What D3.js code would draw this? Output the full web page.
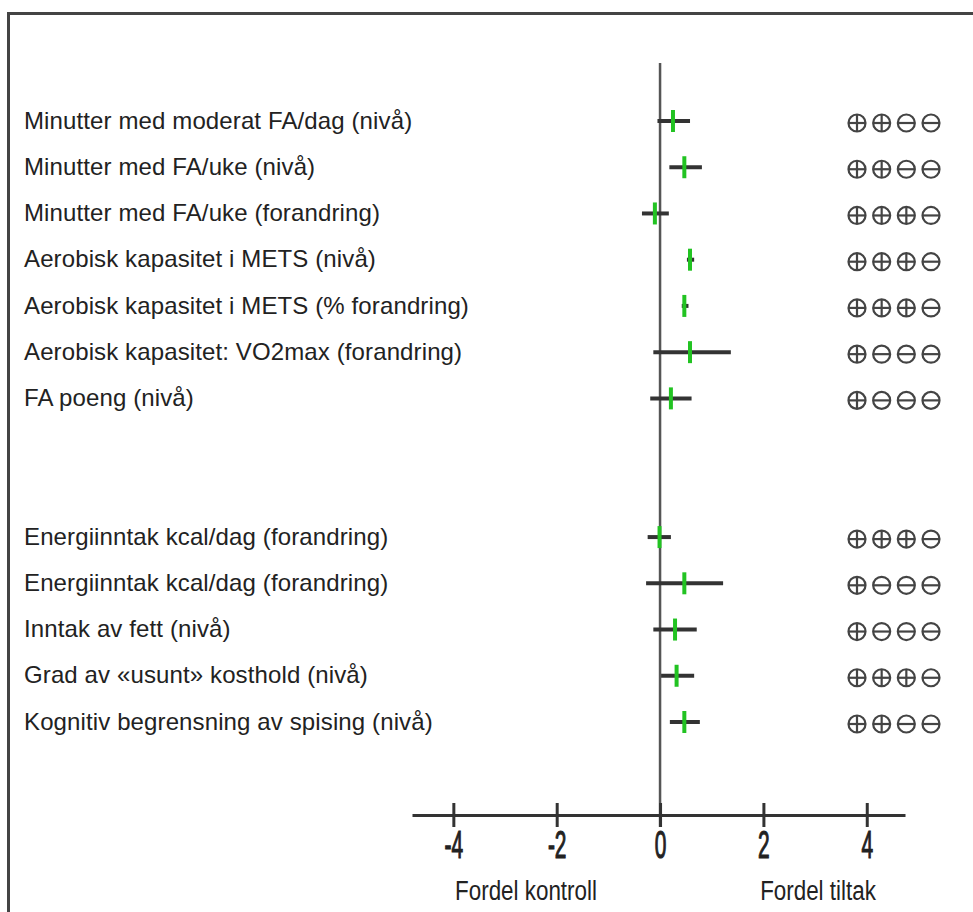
<!DOCTYPE html>
<html>
<head>
<meta charset="utf-8">
<script src="https://cdn.jsdelivr.net/npm/d3@7/dist/d3.min.js"></script>
<style>
  html, body { margin: 0; padding: 0; background: #fff; }
  svg { display: block; }
</style>
</head>
<body>
<svg id="chart" width="973" height="912"></svg>
<script>
// ---- data ----
const outcomesPA = [
  "Minutter med moderat FA/dag (nivå)",
  "Minutter med FA/uke (nivå)",
  "Minutter med FA/uke (forandring)",
  "Aerobisk kapasitet i METS (nivå)",
  "Aerobisk kapasitet i METS (% forandring)",
  "Aerobisk kapasitet: VO2max (forandring)",
  "FA poeng (nivå)"
];
const outcomesDiet = [
  "Energiinntak kcal/dag (forandring)",
  "Energiinntak kcal/dag (forandring)",
  "Inntak av fett (nivå)",
  "Grad av «usunt» kosthold (nivå)",
  "Kognitiv begrensning av spising (nivå)"
];
const estimatePA = [0.25, 0.47, -0.10, 0.58, 0.47, 0.58, 0.21];
const lowerPA    = [-0.05, 0.18, -0.35, 0.52, 0.42, -0.13, -0.19];
const upperPA    = [0.58, 0.81, 0.17, 0.66, 0.55, 1.37, 0.61];
const estimateDiet = [-0.01, 0.47, 0.29, 0.32, 0.47];
const lowerDiet    = [-0.24, -0.27, -0.13, 0.02, 0.19];
const upperDiet    = [0.21, 1.22, 0.71, 0.66, 0.77];
// GRADE certainty: number of ⊕ out of 4
const gradePA   = [2, 2, 3, 3, 3, 1, 1];
const gradeDiet = [3, 1, 1, 3, 2];
const tickValues = [-4, -2, 0, 2, 4];
const leftLabel = "Fordel kontroll";
const rightLabel = "Fordel tiltak";

// ---- build rows ----
const gapSlots = 2;
const rows = [];
outcomesPA.forEach((l, i) => rows.push({label: l, est: estimatePA[i], lo: lowerPA[i], hi: upperPA[i], grade: gradePA[i], slot: i}));
outcomesDiet.forEach((l, i) => rows.push({label: l, est: estimateDiet[i], lo: lowerDiet[i], hi: upperDiet[i], grade: gradeDiet[i], slot: outcomesPA.length + gapSlots + i}));
const nSlots = outcomesPA.length + gapSlots + outcomesDiet.length;

const svg = d3.select("#chart");

// frame (top and left edges)
svg.append("line").attr("x1", 8).attr("x2", 973).attr("y1", 13.5).attr("y2", 13.5)
  .attr("stroke", "#444").attr("stroke-width", 3);
svg.append("line").attr("x1", 8.5).attr("x2", 8.5).attr("y1", 12).attr("y2", 912)
  .attr("stroke", "#444").attr("stroke-width", 3);

const x = d3.scaleLinear().domain([-4.8, 4.74]).range([412, 905]);
const y = d3.scalePoint().domain(d3.range(nSlots)).range([121, 722]);
const axisY = 815;

// zero line
svg.append("line").attr("x1", x(0)).attr("x2", x(0)).attr("y1", 63).attr("y2", axisY + 12)
  .attr("stroke", "#555").attr("stroke-width", 2.5);

// axis
const axis = d3.axisBottom(x).tickValues(tickValues).tickSizeInner(12).tickSizeOuter(0).tickPadding(0);
const gAxis = svg.append("g").attr("transform", `translate(0,${axisY})`).call(axis);
gAxis.select(".domain").attr("stroke", "#333").attr("stroke-width", 3);
gAxis.selectAll(".tick line").attr("y1", -12).attr("y2", 12).attr("stroke", "#333").attr("stroke-width", 3);
gAxis.selectAll(".tick text")
  .attr("y", null).attr("dy", null)
  .attr("transform", "translate(0,43) scale(0.55,1)")
  .attr("font-family", "Liberation Sans, Arial, sans-serif")
  .attr("font-size", 38)
  .attr("fill", "#222")
  .attr("stroke", "#222")
  .attr("stroke-width", 1.2)
  .text(d => d);
gAxis.attr("font-family", null).attr("font-size", null);

// side labels
[[leftLabel, 526], [rightLabel, 818]].forEach(([t, cx]) => {
  svg.append("text")
    .attr("transform", `translate(${cx},900) scale(0.8,1)`)
    .attr("text-anchor", "middle")
    .attr("font-family", "Liberation Sans, Arial, sans-serif")
    .attr("font-size", 28)
    .attr("fill", "#222")
    .text(t);
});

// row labels
svg.append("g").selectAll("text").data(rows).join("text")
  .attr("x", 24)
  .attr("y", d => y(d.slot) - 1)
  .attr("dy", "0.36em")
  .attr("font-family", "Liberation Sans, Arial, sans-serif")
  .attr("font-size", 24)
  .attr("letter-spacing", 0.12)
  .attr("fill", "#222")
  .text(d => d.label);

// confidence intervals
svg.append("g").selectAll("line").data(rows).join("line")
  .attr("x1", d => x(d.lo)).attr("x2", d => x(d.hi))
  .attr("y1", d => y(d.slot)).attr("y2", d => y(d.slot))
  .attr("stroke", "#333").attr("stroke-width", 4);

// point estimates
svg.append("g").selectAll("line").data(rows).join("line")
  .attr("x1", d => x(d.est)).attr("x2", d => x(d.est))
  .attr("y1", d => y(d.slot) - 11).attr("y2", d => y(d.slot) + 11)
  .attr("stroke", "#22c322").attr("stroke-width", 4);

// GRADE symbols
const symX = d3.scaleLinear().domain([0, 3]).range([857, 931]);
const r = 8.5;
const gSym = svg.append("g").attr("stroke", "#444").attr("stroke-width", 2.2).attr("fill", "none");
rows.forEach(d => {
  const cy = y(d.slot) + 2;
  d3.range(4).forEach(k => {
    const cx = symX(k);
    gSym.append("circle").attr("cx", cx).attr("cy", cy).attr("r", r);
    gSym.append("line").attr("x1", cx - r).attr("x2", cx + r).attr("y1", cy).attr("y2", cy);
    if (k < d.grade) {
      gSym.append("line").attr("x1", cx).attr("x2", cx).attr("y1", cy - r).attr("y2", cy + r);
    }
  });
});
</script>
</body>
</html>
